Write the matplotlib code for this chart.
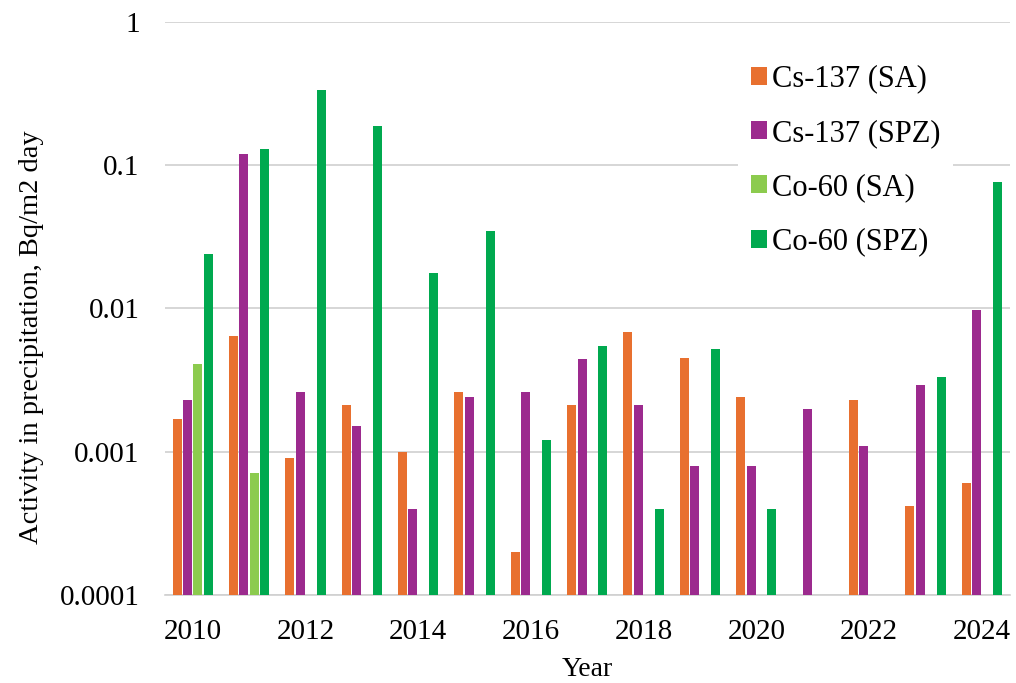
import numpy as np
import matplotlib.pyplot as plt
from matplotlib.ticker import FixedLocator, FixedFormatter

years = list(range(2010, 2025))
nan = np.nan
cs137_sa = [0.0017, 0.0064, 0.0009, 0.0021, 0.0010, 0.0026, 0.0002, 0.0021,
            0.0068, 0.0045, 0.0024, nan, 0.0023, 0.00042, 0.0006]
cs137_spz = [0.0023, 0.12, 0.0026, 0.0015, 0.0004, 0.0024, 0.0026, 0.0044,
             0.0021, 0.00079, 0.00079, 0.0020, 0.0011, 0.0029, 0.0097]
co60_sa = [0.0041, 0.00071, nan, nan, nan, nan, nan, nan,
           nan, nan, nan, nan, nan, nan, nan]
co60_spz = [0.024, 0.129, 0.336, 0.188, 0.0176, 0.0345, 0.0012, 0.0055,
            0.0004, 0.0052, 0.0004, nan, nan, 0.0033, 0.0766]

series = [
    ('Cs-137 (SA)', cs137_sa, '#E8702F'),
    ('Cs-137 (SPZ)', cs137_spz, '#9C2A8E'),
    ('Co-60 (SA)', co60_sa, '#8CCB4E'),
    ('Co-60 (SPZ)', co60_spz, '#00A94F'),
]

plt.rcParams['font.family'] = ['Liberation Serif', 'DejaVu Serif']

fig = plt.figure(figsize=(10.16, 6.83), dpi=100)
ax = fig.add_axes([0.162, 0.129, 0.832, 0.839])

x = np.array(years)
width = 0.16
pitch = 0.185
for i, (label, vals, color) in enumerate(series):
    ax.bar(x + (i - 1.5) * pitch, vals, width=width, color=color,
           label=label, zorder=3)

ax.set_yscale('log')
ax.set_ylim(0.0001, 1)
ax.set_xlim(2009.5, 2024.5)

yt = [0.0001, 0.001, 0.01, 0.1, 1]
ax.yaxis.set_major_locator(FixedLocator(yt))
ax.yaxis.set_major_formatter(FixedFormatter(['0.0001', '0.001', '0.01', '0.1', '1']))
ax.yaxis.set_minor_locator(FixedLocator([]))
ax.set_xticks(years[::2])
ax.set_xticklabels([str(y) for y in years[::2]])
ax.tick_params(axis='both', length=0, labelsize=21)
ax.tick_params(axis='y', pad=18)
ax.tick_params(axis='x', pad=17)

ax.grid(axis='y', color='#D0D0D0', linewidth=1.2, zorder=0)
for s in ['top', 'right', 'left']:
    ax.spines[s].set_visible(False)
ax.spines['bottom'].set_color('#D0D0D0')
ax.spines['bottom'].set_linewidth(1.2)

ax.set_xlabel('Year', fontsize=20, labelpad=9)
ax.set_ylabel('Activity in precipitation, Bq/m2 day', fontsize=20.5)
ax.yaxis.set_label_coords(-0.143, 0.45)

leg = ax.legend(loc='upper left', bbox_to_anchor=(723 / 1016, 1 - 37 / 683),
                bbox_transform=fig.transFigure, fontsize=22,
                handlelength=0.53, handleheight=0.53, handletextpad=0.17,
                labelspacing=0.83, frameon=True, fancybox=False,
                borderpad=0.4)
leg.get_frame().set_facecolor('white')
leg.get_frame().set_edgecolor('none')
leg.get_frame().set_alpha(1)
leg.set_zorder(5)

fig.savefig('out.png', dpi=100)
